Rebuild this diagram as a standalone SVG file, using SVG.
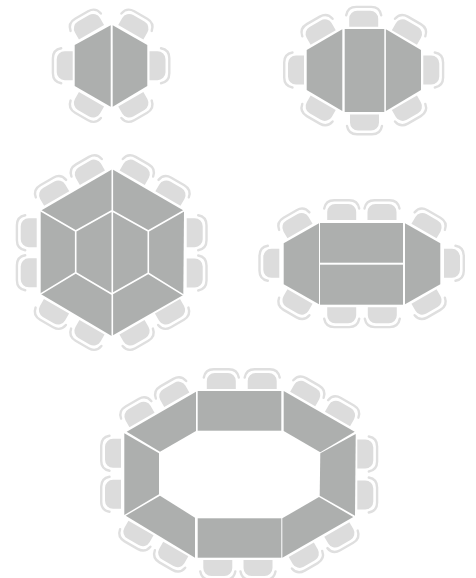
<svg xmlns="http://www.w3.org/2000/svg" width="476" height="578" viewBox="0 0 476 578">
<style>
.t{fill:#adafae}
.l{fill:none;stroke:#fff;stroke-width:1.6}
.s{fill:#dcdcdc}
.b{fill:none;stroke:#dfdfdf;stroke-width:2.4;stroke-linecap:round}
</style>
<defs>
<g id="c">
<path class="s" d="M-14.5,0V-8A8,8 0 0 1 -6.5,-16H6.5A8,8 0 0 1 14.5,-8V0Z"/>
<path class="b" d="M-17.5,-11.5Q-16,-19.8 -7.5,-19.8H7.5Q16,-19.8 17.5,-11.5"/>
</g>
</defs>
<rect width="476" height="578" fill="#fff"/>
<g id="table-1">
<use href="#c" transform="translate(72.7,65.7) rotate(-90)"/>
<use href="#c" transform="translate(149.5,65.7) rotate(90)"/>
<use href="#c" transform="translate(91.5,32.2) rotate(-30)"/>
<use href="#c" transform="translate(130.8,32.2) rotate(30)"/>
<use href="#c" transform="translate(91.5,99.3) rotate(-150)"/>
<use href="#c" transform="translate(130.8,99.3) rotate(150)"/>
<polygon class="t" points="110.7,25.3 74.7,45 74.7,86 110.7,106.7"/>
<polygon class="t" points="112.7,25.3 147.3,45 147.3,86 112.7,106.7"/>
</g>
<g id="table-2">
<use href="#c" transform="translate(363.7,26.7)"/>
<use href="#c" transform="translate(364.5,114.5) rotate(180)"/>
<use href="#c" transform="translate(304,70) rotate(-90)"/>
<use href="#c" transform="translate(423.3,70) rotate(90)"/>
<use href="#c" transform="translate(323.2,37.5) rotate(-30)"/>
<use href="#c" transform="translate(404.4,37.5) rotate(30)"/>
<use href="#c" transform="translate(323.2,102.7) rotate(-150)"/>
<use href="#c" transform="translate(404.4,102.7) rotate(150)"/>
<polygon class="t" points="342.3,29.3 306.7,50 306.7,90 342.3,111"/>
<rect class="t" x="344.7" y="29" width="39.6" height="83"/>
<polygon class="t" points="385.9,29.3 421,50 421,90 385.9,111"/>
</g>
<g id="table-3">
<use href="#c" transform="translate(36.7,232.7) rotate(-90)"/>
<use href="#c" transform="translate(36.7,272.8) rotate(-90)"/>
<use href="#c" transform="translate(186.7,232.7) rotate(90)"/>
<use href="#c" transform="translate(186.7,273) rotate(90)"/>
<use href="#c" transform="translate(56.7,198.6) rotate(-30)"/>
<use href="#c" transform="translate(92.4,177.8) rotate(-30)"/>
<use href="#c" transform="translate(132.2,177.8) rotate(30)"/>
<use href="#c" transform="translate(167.9,198.6) rotate(30)"/>
<use href="#c" transform="translate(56.5,306.3) rotate(-150)"/>
<use href="#c" transform="translate(92,327.3) rotate(-150)"/>
<use href="#c" transform="translate(132,327.3) rotate(150)"/>
<use href="#c" transform="translate(167.5,306.3) rotate(150)"/>
<polygon class="t" points="112.3,169.3 184,210.7 183.3,295 111.7,336 40.7,294 40.7,210.7"/>
<path class="l" d="M112.3,168V337M40,210.3L75.7,231L112,210.7L148.3,231L184.7,210.3M40,294.4L75.7,272.7L111.7,294L148.3,273.3L184,295.4M75.7,231V272.7M148.3,231V273.3"/>
</g>
<g id="table-4">
<use href="#c" transform="translate(341.7,220)"/>
<use href="#c" transform="translate(382,220)"/>
<use href="#c" transform="translate(341.7,307.3) rotate(180)"/>
<use href="#c" transform="translate(382.3,307.3) rotate(180)"/>
<use href="#c" transform="translate(279.3,263.3) rotate(-90)"/>
<use href="#c" transform="translate(444,263.3) rotate(90)"/>
<use href="#c" transform="translate(300,231.1) rotate(-30)"/>
<use href="#c" transform="translate(424,231.1) rotate(30)"/>
<use href="#c" transform="translate(300,296.5) rotate(-150)"/>
<use href="#c" transform="translate(424,296.5) rotate(150)"/>
<polygon class="t" points="319,223.3 283.7,243.3 283.7,284.3 319,304.3"/>
<rect class="t" x="320" y="223" width="83" height="39.7"/>
<rect class="t" x="320" y="264.7" width="83" height="40"/>
<polygon class="t" points="405,223.3 440.3,243.3 440.3,284.3 405,304.3"/>
</g>
<g id="table-5">
<use href="#c" transform="translate(221.3,389)"/>
<use href="#c" transform="translate(262.2,389)"/>
<use href="#c" transform="translate(217.8,560) rotate(180)"/>
<use href="#c" transform="translate(258,560) rotate(180)"/>
<use href="#c" transform="translate(121,453.3) rotate(-90)"/>
<use href="#c" transform="translate(121,494.3) rotate(-90)"/>
<use href="#c" transform="translate(357.3,454) rotate(90)"/>
<use href="#c" transform="translate(357.3,495) rotate(90)"/>
<use href="#c" transform="translate(142,419.9) rotate(-30)"/>
<use href="#c" transform="translate(176.8,399.8) rotate(-30)"/>
<use href="#c" transform="translate(302.7,399) rotate(30)"/>
<use href="#c" transform="translate(337.5,418.9) rotate(30)"/>
<use href="#c" transform="translate(141,528) rotate(-150)"/>
<use href="#c" transform="translate(175.8,549) rotate(-150)"/>
<use href="#c" transform="translate(301.3,549.7) rotate(150)"/>
<use href="#c" transform="translate(336.8,529.4) rotate(150)"/>
<rect class="t" x="197.7" y="391" width="83.6" height="39.7"/>
<rect class="t" x="197.7" y="518.3" width="83.6" height="39.4"/>
<polygon class="t" points="196,391.7 126.7,431.7 160,451.7 196,431"/>
<polygon class="t" points="124.3,433.3 159,453.3 159,494.3 124.3,515"/>
<polygon class="t" points="160,495.7 125.7,515.7 195,557.7 195,517.7"/>
<polygon class="t" points="283.7,391 354.7,431.7 320.3,452.3 283.7,431"/>
<polygon class="t" points="355.7,434 320.3,453.3 319.7,495.7 355,515.7"/>
<polygon class="t" points="319,497 353.3,517 282.3,557.7 282.3,518.3"/>
</g>
</svg>
